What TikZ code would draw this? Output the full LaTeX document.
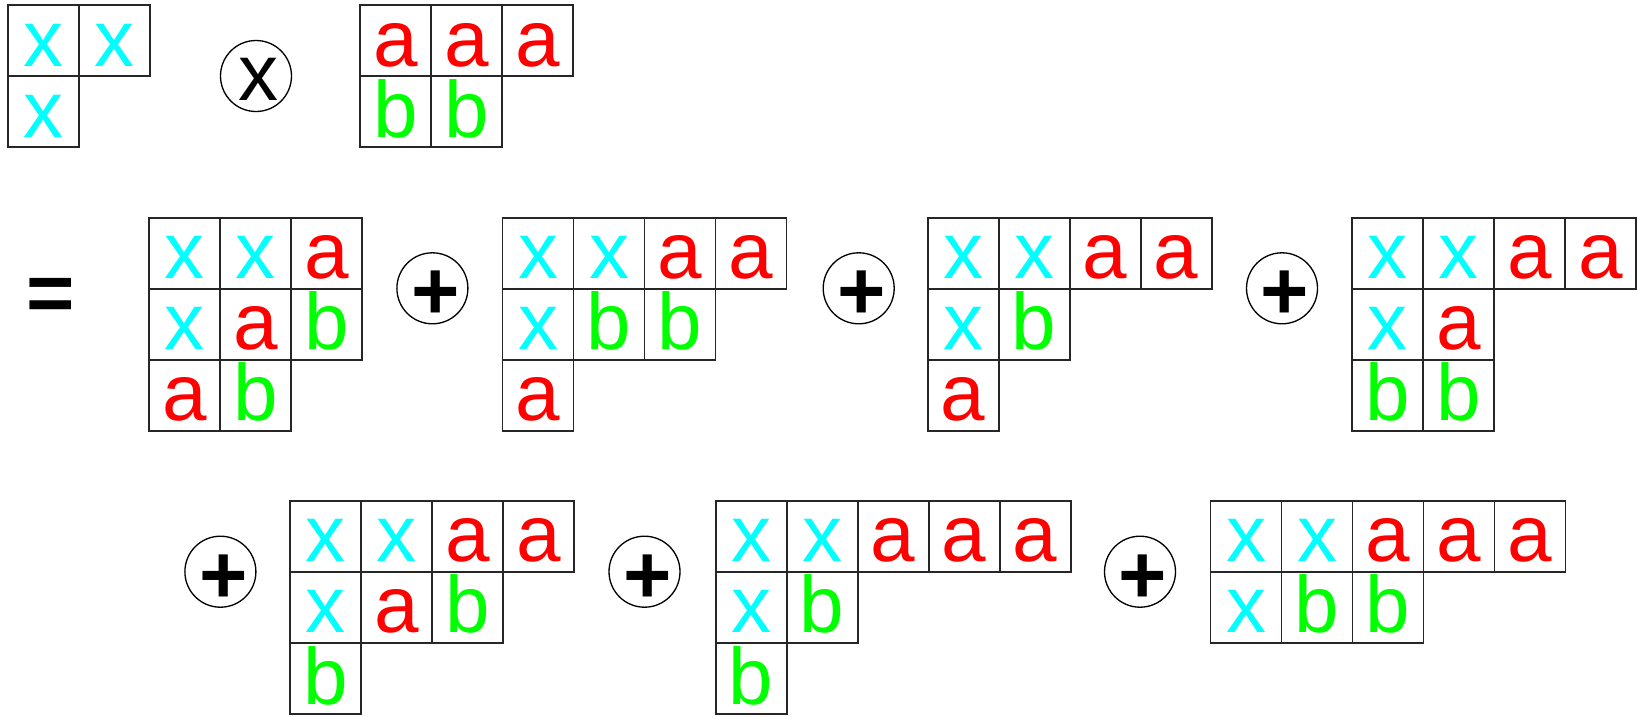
\documentclass[tikz,border=0pt]{standalone}
\usepackage{fontspec}
\setmainfont{Liberation Sans}
\definecolor{col-x}{RGB}{0,255,255}
\definecolor{col-a}{RGB}{255,0,0}
\definecolor{col-b}{RGB}{0,255,0}
\newcommand{\cellfont}{\fontsize{45.35}{50}\selectfont}
\newcommand{\opfont}{\fontsize{47}{52}\selectfont\bfseries}
\tikzset{
  cellbox/.style={draw=black!85, line width=1.1pt, minimum width=40.25pt,
    minimum height=40.25pt, inner sep=0pt, text height=28.9pt,
    text depth=0pt, font=\cellfont},
  opcircle/.style={circle, draw=black, line width=0.75pt,
    minimum size=40.25pt, inner sep=0pt},
}
% one row of a tableau: #1 name, #2 row index, #3 left edge, #4 top edge, #5 letters
\newcommand{\tabrow}[5]{%
  \foreach \lt [count=\k] in {#5} {%
    \node[cellbox, text=col-\lt] (#1-#2-\k)
      at ({#3+71*(\k-1)+35.5}, {#4+71*(#2-1)+35.5}) {\lt};
  }%
}
\begin{document}
\begin{tikzpicture}[x=0.5669pt, y=-0.5669pt]
\fill[white] (0,0) rectangle (1638,716);
\useasboundingbox (0,0) rectangle (1638,716);

% factors
\tabrow{f1}{1}{8.4}{5.2}{x,x}
\tabrow{f1}{2}{8.4}{5.2}{x}
\node[opcircle, font=\cellfont] (times) at (256,76)
  {\hspace*{3pt}\smash{\raisebox{-14pt}{x}}};
\tabrow{f2}{1}{360.4}{5.2}{a,a,a}
\tabrow{f2}{2}{360.4}{5.2}{b,b}

% product, first line
\node[font=\opfont, anchor=base] (eq) at (50.7,321) {=};
\tabrow{t1}{1}{149.3}{217.7}{x,x,a}
\tabrow{t1}{2}{149.3}{217.7}{x,a,b}
\tabrow{t1}{3}{149.3}{217.7}{a,b}
\node[opcircle, font=\opfont] (p1) at (432.4,288.3)
  {\hspace*{3.4pt}\smash{\raisebox{-17.8pt}{+}}};
\tabrow{t2}{1}{502.5}{217.7}{x,x,a,a}
\tabrow{t2}{2}{502.5}{217.7}{x,b,b}
\tabrow{t2}{3}{502.5}{217.7}{a}
\node[opcircle, font=\opfont] (p2) at (858.7,288.3)
  {\hspace*{3.4pt}\smash{\raisebox{-17.8pt}{+}}};
\tabrow{t3}{1}{927.6}{217.7}{x,x,a,a}
\tabrow{t3}{2}{927.6}{217.7}{x,b}
\tabrow{t3}{3}{927.6}{217.7}{a}
\node[opcircle, font=\opfont] (p3) at (1282,288.3)
  {\hspace*{3.4pt}\smash{\raisebox{-17.8pt}{+}}};
\tabrow{t4}{1}{1352}{217.7}{x,x,a,a}
\tabrow{t4}{2}{1352}{217.7}{x,a}
\tabrow{t4}{3}{1352}{217.7}{b,b}

% product, second line
\node[opcircle, font=\opfont] (p4) at (220.4,571.7)
  {\hspace*{3.4pt}\smash{\raisebox{-17.8pt}{+}}};
\tabrow{t5}{1}{290}{501}{x,x,a,a}
\tabrow{t5}{2}{290}{501}{x,a,b}
\tabrow{t5}{3}{290}{501}{b}
\node[opcircle, font=\opfont] (p5) at (644.5,571.7)
  {\hspace*{3.4pt}\smash{\raisebox{-17.8pt}{+}}};
\tabrow{t6}{1}{715.6}{501}{x,x,a,a,a}
\tabrow{t6}{2}{715.6}{501}{x,b}
\tabrow{t6}{3}{715.6}{501}{b}
\node[opcircle, font=\opfont] (p6) at (1140,571.7)
  {\hspace*{3.4pt}\smash{\raisebox{-17.8pt}{+}}};
\tabrow{t7}{1}{1210.5}{501}{x,x,a,a,a}
\tabrow{t7}{2}{1210.5}{501}{x,b,b}
\end{tikzpicture}
\end{document}
